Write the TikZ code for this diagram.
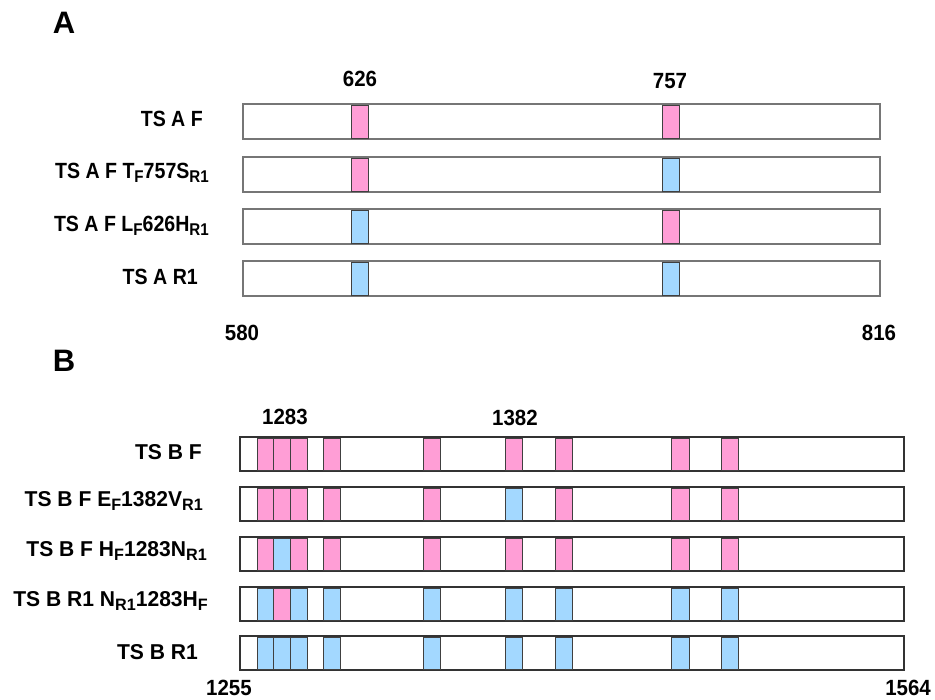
\documentclass[tikz,border=0pt]{standalone}
\usepackage{fontspec}
\setmainfont{Liberation Sans}
\definecolor{pinkc}{HTML}{FF9ED6}
\definecolor{bluec}{HTML}{A3D8FF}
\definecolor{barA}{HTML}{767676}
\definecolor{barB}{HTML}{333333}
\newcommand{\lblA}[1]{\scalebox{0.89}[1]{\fontsize{22}{24}\selectfont\bfseries #1}}
\newcommand{\lblB}[1]{\scalebox{0.98}[1]{\fontsize{21.5}{24}\selectfont\bfseries #1}}
\newcommand{\nmb}[1]{\scalebox{0.93}[1]{\fontsize{22}{24}\selectfont\bfseries #1}}
\newcommand{\sbs}[1]{\raisebox{-4pt}{\fontsize{17}{17}\selectfont #1}}
\newcommand{\sbb}[1]{\raisebox{-4pt}{\fontsize{16.5}{16.5}\selectfont #1}}
\tikzset{
  txt/.style={inner sep=0pt, text=black},
  barAst/.style={draw=barA, line width=1.8pt, fill=white},
  barBst/.style={draw=barB, line width=1.6pt, fill=white},
  pk/.style={draw=black!75, line width=0.8pt, fill=pinkc},
  bl/.style={draw=black!75, line width=0.8pt, fill=bluec}
}
\begin{document}
\begin{tikzpicture}[x=1pt,y=-1pt]
\useasboundingbox (0,0) rectangle (935,700);
% Panel letters
\node[txt] (pA) at (64,23) {\fontsize{31}{31}\selectfont\bfseries A};
\node[txt] (pB) at (64,361) {\fontsize{31}{31}\selectfont\bfseries B};

% ---------- Panel A ----------
\foreach \yt/\ca/\cb in {104/pk/pk, 157/pk/bl, 209/bl/pk, 261/bl/bl}{
  \draw[barAst] (243,\yt) rectangle (880,\yt+35);
  \draw[\ca] (351,\yt+1) rectangle (368,\yt+34);
  \draw[\cb] (662,\yt+1) rectangle (679,\yt+34);
}
\node[txt, anchor=base east] (la1) at (203,127) {\lblA{TS A F}};
\node[txt, anchor=base east] (la2) at (209,179) {\lblA{TS A F T\sbs{F}757S\sbs{R1}}};
\node[txt, anchor=base east] (la3) at (209,232) {\lblA{TS A F L\sbs{F}626H\sbs{R1}}};
\node[txt, anchor=base east] (la4) at (198,285) {\lblA{TS A R1}};
\node[txt] (n626) at (360,79) {\nmb{626}};
\node[txt] (n757) at (670,81) {\nmb{757}};
\node[txt] (n580) at (242,333) {\nmb{580}};
\node[txt] (n816) at (879,333) {\nmb{816}};

% ---------- Panel B ----------
\foreach \yt in {437, 487, 537, 587, 636}{
  \draw[barBst] (240,\yt) rectangle (904,\yt+34);
}
\foreach \yt/\ca/\cb/\cc/\cd/\ce/\cf/\cg/\ch/\ci in {
  437/pk/pk/pk/pk/pk/pk/pk/pk/pk,
  487/pk/pk/pk/pk/pk/bl/pk/pk/pk,
  537/pk/bl/pk/pk/pk/pk/pk/pk/pk,
  587/bl/pk/bl/bl/bl/bl/bl/bl/bl,
  636/bl/bl/bl/bl/bl/bl/bl/bl/bl}{
  \draw[\ca] (257,\yt+1) rectangle (273,\yt+33);
  \draw[\cb] (273,\yt+1) rectangle (290,\yt+33);
  \draw[\cc] (290,\yt+1) rectangle (307,\yt+33);
  \draw[\cd] (323,\yt+1) rectangle (340,\yt+33);
  \draw[\ce] (423,\yt+1) rectangle (440,\yt+33);
  \draw[\cf] (505,\yt+1) rectangle (522,\yt+33);
  \draw[\cg] (555,\yt+1) rectangle (572,\yt+33);
  \draw[\ch] (671,\yt+1) rectangle (689,\yt+33);
  \draw[\ci] (721,\yt+1) rectangle (738,\yt+33);
}
\node[txt, anchor=base east] (lb1) at (202,460) {\lblB{TS B F}};
\node[txt, anchor=base east] (lb2) at (203,507) {\lblB{TS B F E\sbb{F}1382V\sbb{R1}}};
\node[txt, anchor=base east] (lb3) at (207,556) {\lblB{TS B F H\sbb{F}1283N\sbb{R1}}};
\node[txt, anchor=base east] (lb4) at (208,606) {\lblB{TS B R1 N\sbb{R1}1283H\sbb{F}}};
\node[txt, anchor=base east] (lb5) at (198,659) {\lblB{TS B R1}};
\node[txt] (n1283) at (285,417) {\nmb{1283}};
\node[txt] (n1382) at (515,418) {\nmb{1382}};
\node[txt] (n1255) at (229,688) {\nmb{1255}};
\node[txt] (n1564) at (908,688) {\nmb{1564}};
\end{tikzpicture}
\end{document}
